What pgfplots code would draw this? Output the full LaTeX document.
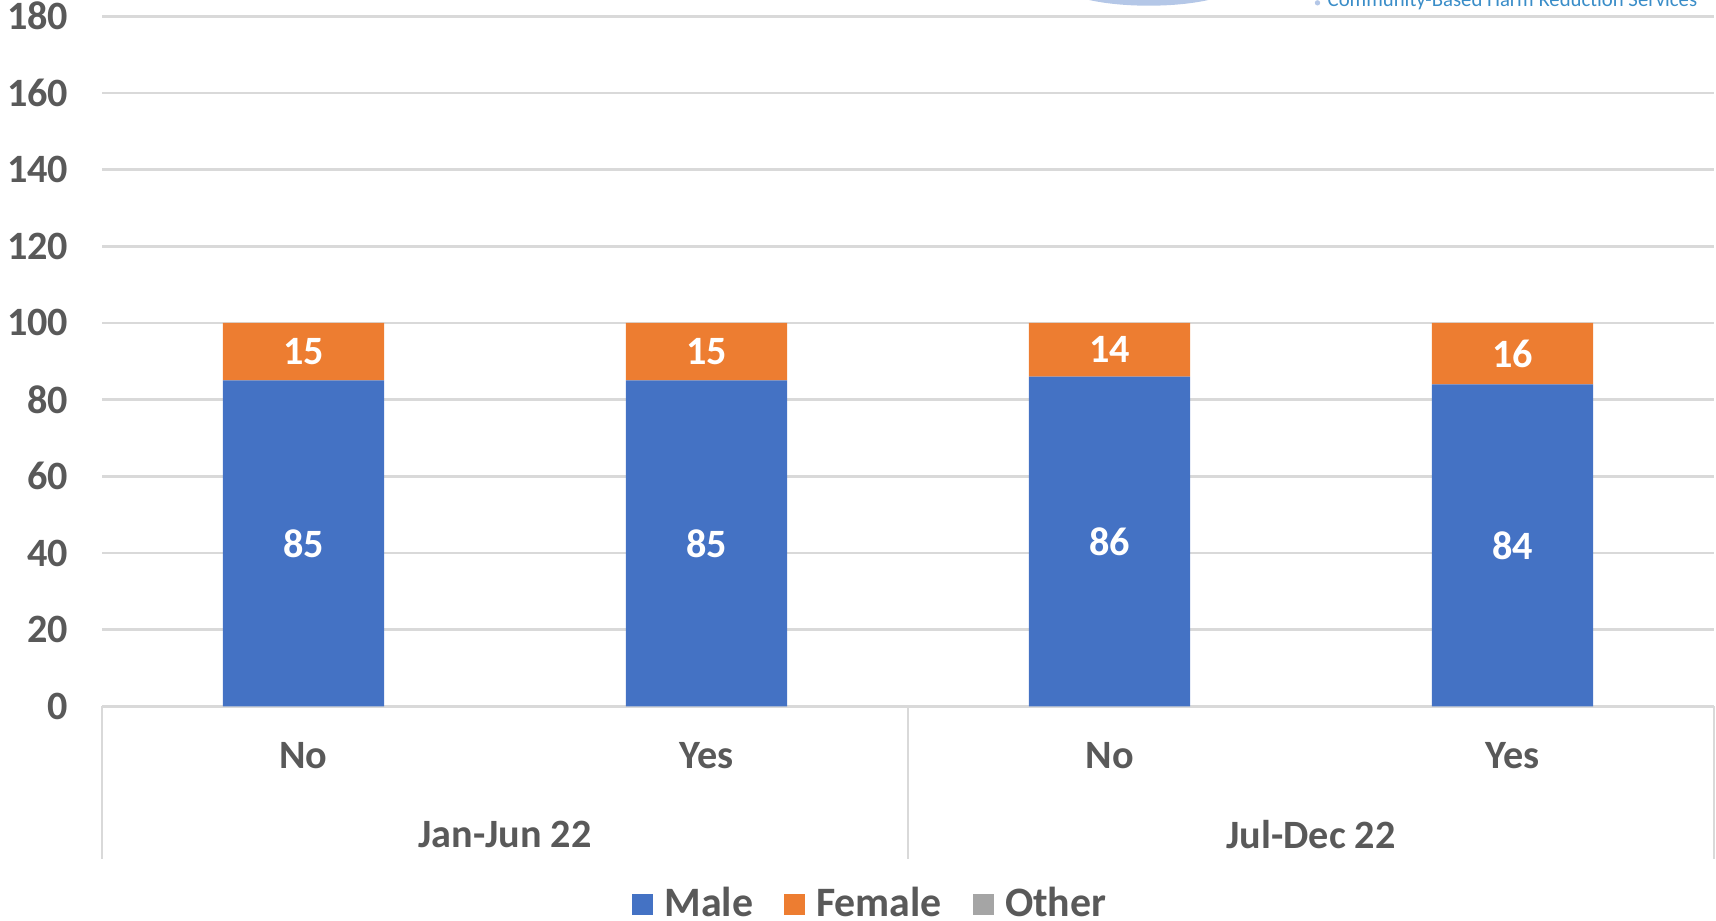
\documentclass[border=0pt]{standalone}
\usepackage{fontspec}
\setmainfont{Carlito}
\usepackage{pgfplots}
\pgfplotsset{compat=1.18}
\definecolor{male}{HTML}{4472C4}
\definecolor{female}{HTML}{ED7D31}
\definecolor{other}{HTML}{A5A5A5}
\definecolor{txt}{HTML}{595959}
\definecolor{gridc}{HTML}{D9D9D9}
\definecolor{logo}{HTML}{3A8DC8}
\definecolor{logolight}{HTML}{B4C7E7}
\pgfplotsset{
  frame/.style={
    at={(0,0)}, anchor=south west,
    scale only axis, width=16.91cm, height=7.24cm,
    xmin=-0.5, xmax=3.5, ymin=0, ymax=180,
    clip=false,
  },
}
\begin{document}
\begin{tikzpicture}[font=\fontsize{12}{14}\selectfont\bfseries]
\useasboundingbox (-1.07,-2.245) rectangle (16.93,7.41);
% partly visible logo at the top
\fill[logolight] (10.98,7.58) ellipse (0.93cm and 0.23cm);
\fill[logolight] (12.75,7.38) circle (0.028cm);
\node[logo, anchor=base west, inner sep=0pt, font=\fontsize{6.2}{7}\selectfont\mdseries]
  at (12.85,7.337) {Community-Based Harm Reduction Services};
\begin{axis}[
  frame,
  ybar stacked, bar width=0.4,
  xtick={0,1,2,3}, xticklabels={No,Yes,No,Yes},
  ytick={0,20,...,180},
  major tick length=0,
  /pgf/number format/assume math mode=true,
  axis x line*=bottom, axis y line*=left,
  x axis line style={gridc, line width=0.8pt},
  y axis line style={draw=none},
  ymajorgrids, grid style={gridc, line width=0.8pt},
  tick label style={txt},
  xticklabel style={yshift=-0.25cm},
  yticklabel style={xshift=-0.23cm},
  legend style={at={(0.478,-0.287)}, anchor=center, legend columns=3,
    draw=none, fill=none, text=txt, font=\fontsize{12.5}{14}\selectfont\bfseries,
    /tikz/every even column/.append style={column sep=0.25cm}},
  legend image code/.code={\fill[#1] (0cm,-0.11cm) rectangle (0.22cm,0.11cm);},
]
\addplot[fill=male, draw=none] coordinates {(0,85) (1,85) (2,86) (3,84)};
\addplot[fill=female, draw=none] coordinates {(0,15) (1,15) (2,14) (3,16)};
\addplot[fill=other, draw=none] coordinates {(0,0) (1,0) (2,0) (3,0)};
\legend{\hspace{0.05cm}Male, \hspace{0.05cm}Female, \hspace{0.05cm}Other}
% group separators and group labels
\draw[gridc, line width=0.8pt] (axis cs:-0.5,0) -- ([yshift=-1.605cm]axis cs:-0.5,0);
\draw[gridc, line width=0.8pt] (axis cs:1.5,0) -- ([yshift=-1.605cm]axis cs:1.5,0);
\draw[gridc, line width=0.8pt] (axis cs:3.5,0) -- ([yshift=-1.605cm]axis cs:3.5,0);
\node[txt] at ([yshift=-1.34cm]axis cs:0.5,0) {Jan-Jun 22};
\node[txt] at ([yshift=-1.34cm]axis cs:2.5,0) {Jul-Dec 22};
\end{axis}
% value labels in the middle of each segment
\begin{axis}[frame, hide axis]
\addplot[only marks, mark=none, nodes near coords, point meta=explicit symbolic,
  every node near coord/.append style={white, anchor=center}]
  coordinates {(0,42.5)[85] (1,42.5)[85] (2,43)[86] (3,42)[84]
               (0,92.5)[15] (1,92.5)[15] (2,93)[14] (3,92)[16]};
\end{axis}
\end{tikzpicture}
\end{document}
